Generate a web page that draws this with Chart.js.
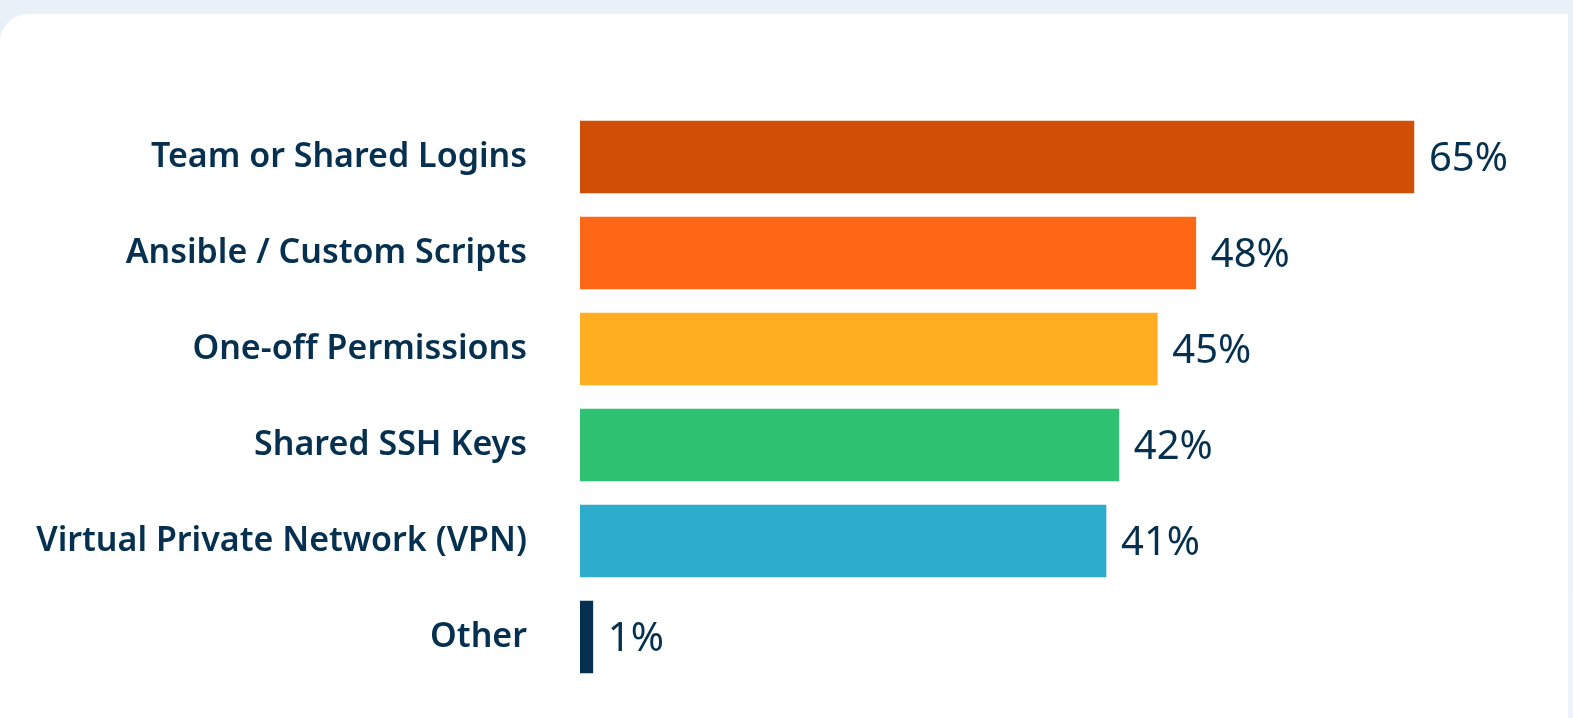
<!DOCTYPE html>
<html>
<head>
<meta charset="utf-8">
<script src="https://cdn.jsdelivr.net/npm/chart.js@4/dist/chart.umd.min.js"></script>
<style>
  html, body { margin: 0; padding: 0; }
  body {
    width: 1573px; height: 718px; overflow: hidden;
    background: linear-gradient(180deg, #e9f0f8 0%, #eef3f9 100%);
    position: relative;
  }
  .card {
    position: absolute; left: 0; top: 14px; width: 1568px; height: 720px;
    background: #ffffff; border-top-left-radius: 28px;
  }
  #wrap { position: absolute; left: 0; top: 0; width: 1573px; height: 718px; }
</style>
</head>
<body>
<div class="card"></div>
<div id="wrap"><canvas id="myChart"></canvas></div>
<script>
const categories = [
    'Team or Shared Logins',
    'Ansible / Custom Scripts',
    'One-off Permissions',
    'Shared SSH Keys',
    'Virtual Private Network (VPN)',
    'Other'
];
const values = [65, 48, 45, 42, 41, 1];
const barColors = ['#cf4f06', '#fd6715', '#ffae22', '#30c273', '#2daccc', '#06304f'];

const navy = '#06304f';

// etiquetas de valor al final de cada barra
const valueLabels = {
    id: 'valueLabels',
    afterDatasetsDraw(chart) {
        const ctx = chart.ctx;
        const meta = chart.getDatasetMeta(0);
        ctx.save();
        ctx.font = '400 40px "Noto Sans", sans-serif';
        ctx.fillStyle = navy;
        ctx.textAlign = 'left';
        ctx.textBaseline = 'middle';
        meta.data.forEach(function (bar, i) {
            ctx.fillText(values[i] + '%', bar.x + 15, bar.y + 3);
        });
        ctx.restore();
    }
};

new Chart(document.getElementById('myChart'), {
    type: 'bar',
    data: {
        labels: categories,
        datasets: [{
            data: values,
            backgroundColor: barColors,
            borderWidth: 0,
            barThickness: 72
        }]
    },
    options: {
        indexAxis: 'y',
        responsive: true,
        maintainAspectRatio: false,
        animation: false,
        layout: { padding: { top: 109, bottom: 33, left: 0, right: 0 } },
        plugins: {
            legend: { display: false },
            tooltip: { enabled: false }
        },
        scales: {
            x: {
                display: false,
                min: 0,
                max: 77.4
            },
            y: {
                grid: { display: false },
                border: { display: false },
                afterFit: function (scale) {
                    scale.width = 580;
                    scale.paddingTop = 0;
                    scale.paddingBottom = 0;
                },
                ticks: {
                    color: navy,
                    padding: 45,
                    font: { family: '"Noto Sans", sans-serif', size: 34, weight: '600' }
                }
            }
        }
    },
    plugins: [valueLabels]
});
</script>
</body>
</html>
